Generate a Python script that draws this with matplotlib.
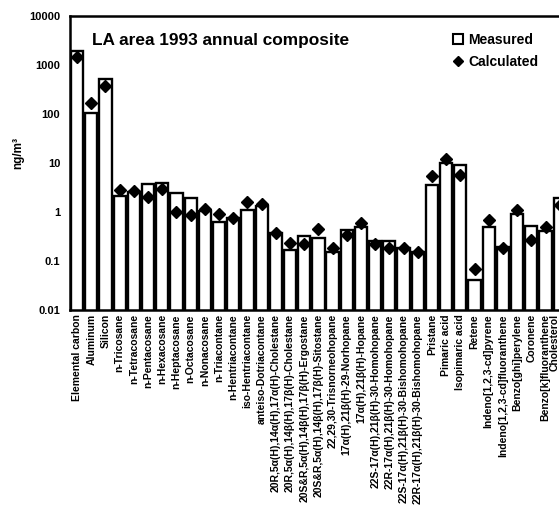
import matplotlib
matplotlib.use('Agg')
import matplotlib.pyplot as plt
import numpy as np
from matplotlib.lines import Line2D

categories = [
    "Elemental carbon", "Aluminum", "Silicon",
    "n-Tricosane", "n-Tetracosane", "n-Pentacosane", "n-Hexacosane",
    "n-Heptacosane", "n-Octacosane", "n-Nonacosane", "n-Triacontane",
    "n-Hentriacontane", "iso-Hentriacontane", "anteiso-Dotriacontane",
    "20R,5α(H),14α(H),17α(H)-Cholestane",
    "20R,5α(H),14β(H),17β(H)-Cholestane",
    "20S&R,5α(H),14β(H),17β(H)-Ergostane",
    "20S&R,5α(H),14β(H),17β(H)-Sitostane",
    "22,29,30-Trisnorneohopane",
    "17α(H),21β(H)-29-Norhopane",
    "17α(H),21β(H)-Hopane",
    "22S-17α(H),21β(H)-30-Homohopane",
    "22R-17α(H),21β(H)-30-Homohopane",
    "22S-17α(H),21β(H)-30-Bishomohopane",
    "22R-17α(H),21β(H)-30-Bishomohopane",
    "Pristane", "Pimaric acid", "Isopimaric acid", "Retene",
    "Indeno[1,2,3-cd]pyrene", "Indeno[1,2,3-cd]fluoranthene",
    "Benzo[ghi]perylene", "Coronene", "Benzo[k]fluoranthene", "Cholesterol",
]

measured = [
    1950, 103, 510,
    2.15, 2.6, 3.7, 3.85, 2.4, 1.9, 1.07, 0.63, 0.74, 1.1, 1.35,
    0.37, 0.17, 0.32, 0.30, 0.155, 0.43, 0.50, 0.26, 0.26, 0.18, 0.15,
    3.5, 10.1, 9.1, 0.041, 0.50, 0.19, 0.93, 0.52, 0.40, 1.95,
]

calculated = [
    1480, 170, 370,
    2.8, 2.7, 2.0, 2.95, 1.01, 0.87, 1.14, 0.89, 0.74, 1.63, 1.45,
    0.38, 0.23, 0.22, 0.45, 0.18, 0.34, 0.60, 0.22, 0.18, 0.18, 0.155,
    5.4, 11.9, 5.7, 0.068, 0.69, 0.18, 1.1, 0.27, 0.49, 1.38,
]

ytick_vals = [0.01, 0.1, 1, 10, 100, 1000, 10000]
ytick_labels = ["0.01", "0.1", "1", "10", "100", "1000", "10000"]

plt.rcParams['font.family'] = ['Liberation Sans', 'DejaVu Sans']

W, H = 559, 523
fig = plt.figure(figsize=(W / 100, H / 100), dpi=100)
ax = fig.add_axes([70 / W, 1 - 310 / H, (581 - 70) / W, (310 - 16) / H])
ax.set_yscale('log')

x = np.arange(len(categories))
ax.bar(x, measured, width=0.86, color='white', edgecolor='black',
       linewidth=1.7, zorder=2)
ax.plot(x, calculated, linestyle='none', marker='D', markersize=6,
        color='black', zorder=3)

ax.set_ylim(0.01, 10000)
ax.set_xlim(-0.5, len(categories) + 0.5)
ax.set_yticks(ytick_vals)
ax.set_yticklabels(ytick_labels, fontsize=8, fontweight='bold')
ax.yaxis.set_minor_locator(matplotlib.ticker.NullLocator())
ax.tick_params(axis='y', length=0, pad=7)
ax.set_xticks(x)
ax.set_xticklabels(categories, rotation=90, fontsize=7.5, fontweight='bold')
ax.tick_params(axis='x', length=0, pad=3)
# last label sits at the right edge of the picture: keep it inside
ax.get_xticklabels()[-1].set_horizontalalignment('right')

for side in ['left', 'bottom', 'top']:
    ax.spines[side].set_linewidth(1.8)
ax.spines['right'].set_visible(False)

fig.text(92 / W, 1 - 40 / H, "LA area 1993 annual composite",
         fontsize=12.4, fontweight='bold', ha='left', va='center')
fig.text(18 / W, 1 - 153 / H, "ng/m³", rotation=90, fontsize=8.5,
         fontweight='bold', ha='center', va='center')

handles = [
    Line2D([], [], linestyle='none', marker='s', markersize=7,
           markerfacecolor='white', markeredgecolor='black', markeredgewidth=1.5),
    Line2D([], [], linestyle='none', marker='D', markersize=5,
           color='black'),
]
leg = fig.legend(handles, ["Measured", "Calculated"], loc='upper left',
                 bbox_to_anchor=(452 / W, 1 - 33 / H), bbox_transform=fig.transFigure,
                 frameon=False, borderpad=0, borderaxespad=0, handlelength=0.8,
                 handletextpad=0.35, labelspacing=0.6,
                 prop={'size': 10, 'weight': 'bold'})

fig.savefig('out.png', dpi=100)
